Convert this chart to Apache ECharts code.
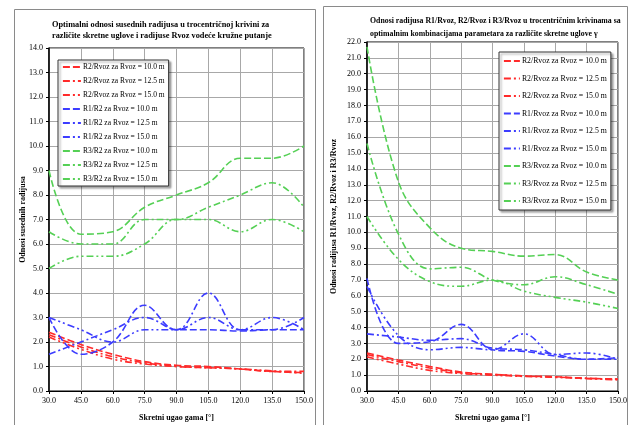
<!doctype html>
<html>
<head>
<meta charset="utf-8">
<title>Odnosi radijusa</title>
<script src="https://cdn.jsdelivr.net/npm/echarts@6/dist/echarts.min.js"></script>
<style>
  body { margin: 0; background: #fff; }
  #left { position: absolute; left: 0; top: 0; width: 320px; height: 425px; }
  #right { position: absolute; left: 320px; top: 0; width: 309px; height: 425px; }
</style>
</head>
<body>
<div id="left"></div>
<div id="right"></div>
<script>
// skretni ugao gama
var angles = [30, 45, 60, 75, 90, 105, 120, 135, 150];
var radii = ['10.0', '12.5', '15.0'];

// levi grafik: odnosi susednih radijusa
var l_r2rvoz_10 = [2.4, 1.9, 1.5, 1.2, 1.05, 1.0, 0.9, 0.8, 0.75];
var l_r2rvoz_125 = [2.3, 1.8, 1.4, 1.15, 1.0, 0.95, 0.9, 0.8, 0.8];
var l_r2rvoz_15 = [2.2, 1.7, 1.3, 1.1, 1.0, 0.95, 0.9, 0.82, 0.72];
var l_r1r2_10 = [3.0, 1.5, 2.0, 3.5, 2.5, 2.5, 2.45, 2.5, 2.5];
var l_r1r2_125 = [1.5, 2.0, 2.5, 3.0, 2.5, 4.0, 2.5, 2.5, 3.0];
var l_r1r2_15 = [3.0, 2.5, 2.0, 2.5, 2.5, 3.0, 2.5, 3.0, 2.5];
var l_r3r2_10 = [9.0, 6.4, 6.5, 7.5, 8.0, 8.5, 9.5, 9.5, 10.0];
var l_r3r2_125 = [6.5, 6.0, 6.0, 7.0, 7.0, 7.5, 8.0, 8.5, 7.5];
var l_r3r2_15 = [5.0, 5.5, 5.5, 6.0, 7.0, 7.0, 6.5, 7.0, 6.5];

// desni grafik: R1/Rvoz, R2/Rvoz, R3/Rvoz
var d_r2rvoz_10 = [2.4, 1.95, 1.55, 1.2, 1.05, 0.95, 0.9, 0.8, 0.75];
var d_r2rvoz_125 = [2.3, 1.85, 1.45, 1.15, 1.05, 0.95, 0.88, 0.8, 0.75];
var d_r2rvoz_15 = [2.15, 1.7, 1.3, 1.1, 1.0, 0.92, 0.86, 0.78, 0.7];
var d_r1rvoz_10 = [7.1, 3.0, 3.1, 4.2, 2.6, 2.5, 2.2, 2.0, 2.1];
var d_r1rvoz_125 = [3.6, 3.4, 3.2, 3.3, 2.7, 2.6, 2.3, 2.0, 2.0];
var d_r1rvoz_15 = [6.6, 3.5, 2.6, 2.75, 2.6, 3.6, 2.3, 2.4, 2.0];
var d_r3rvoz_10 = [21.7, 13.2, 10.3, 9.0, 8.8, 8.5, 8.6, 7.5, 7.0];
var d_r3rvoz_125 = [15.6, 9.9, 7.7, 7.8, 7.0, 6.7, 7.2, 6.7, 6.1];
var d_r3rvoz_15 = [11.0, 8.3, 6.9, 6.6, 7.0, 6.3, 5.9, 5.6, 5.2];

var FONT = 'Liberation Serif';
var colors = ['#ff2a2a', '#3c3cff', '#55d055'];
var dashes = [[7, 3], [7, 3, 2, 3], [7, 3, 2, 3, 2, 3]];

function makeSeries(groups, prefixes) {
  var out = [];
  groups.forEach(function (grp, g) {
    grp.forEach(function (vals, k) {
      out.push({
        name: prefixes[g] + ' za Rvoz = ' + radii[k] + ' m',
        type: 'line',
        smooth: 0.4,
        symbol: 'none',
        data: angles.map(function (a, i) { return [a, vals[i]]; }),
        lineStyle: { color: colors[g], width: 1.6, type: dashes[k] },
        itemStyle: { color: colors[g] }
      });
    });
  });
  return out;
}

function makeOption(p) {
  var series = makeSeries(p.groups, p.prefixes);
  return {
    animation: false,
    title: {
      text: p.title,
      left: p.titleLeft,
      top: p.titleTop,
      textStyle: { fontFamily: FONT, fontSize: p.titleSize, fontWeight: 'bold', color: '#000', lineHeight: p.titleLH }
    },
    graphic: [{
      type: 'rect',
      shape: p.frame,
      style: { fill: 'none', stroke: '#8a8a8a', lineWidth: 1 },
      z: -1
    }],
    legend: {
      orient: 'vertical',
      left: p.legend.left,
      top: p.legend.top,
      data: series.map(function (s) { return s.name; }),
      itemWidth: p.legend.iw,
      itemHeight: 8,
      itemGap: p.legend.gap,
      padding: [p.legend.pad, 4, p.legend.pad, 4],
      backgroundColor: '#fff',
      borderColor: '#333',
      borderWidth: 1,
      shadowColor: 'rgba(0,0,0,0.35)',
      shadowOffsetX: 2,
      shadowOffsetY: 2,
      shadowBlur: 2,
      itemStyle: { opacity: 0 },
      lineStyle: { width: 1.8 },
      textStyle: { fontFamily: FONT, fontSize: p.legend.fs, color: '#000', padding: [0, 0, 0, -3] }
    },
    grid: Object.assign({ show: true, borderColor: '#000', borderWidth: 1, containLabel: false, outerBoundsMode: 'none' }, p.grid),
    xAxis: {
      type: 'value', min: 30, max: 150, interval: 15,
      name: 'Skretni ugao gama [°]', nameLocation: 'middle', nameGap: 23, nameMoveOverlap: false,
      nameTextStyle: { fontFamily: FONT, fontSize: 8, fontWeight: 'bold', color: '#000' },
      axisLine: { lineStyle: { color: '#000', width: 1 } },
      axisTick: { show: true, length: 3, lineStyle: { color: '#000' } },
      axisLabel: { fontFamily: FONT, fontSize: 8, color: '#000', margin: 6, formatter: function (v) { return v.toFixed(1); } },
      splitLine: { lineStyle: { color: '#a8a8a8', width: 1 } }
    },
    yAxis: {
      type: 'value', min: 0, max: p.ymax, interval: 1,
      name: p.yname, nameLocation: 'middle', nameGap: p.ynameGap, nameMoveOverlap: false,
      nameTextStyle: { fontFamily: FONT, fontSize: 8, fontWeight: 'bold', color: '#000' },
      axisLine: { show: true, lineStyle: { color: '#000', width: 1.5 } },
      axisTick: { show: true, length: 3, lineStyle: { color: '#000' } },
      axisLabel: { fontFamily: FONT, fontSize: 8, color: '#000', margin: 6, formatter: function (v) { return v.toFixed(1); } },
      splitLine: { lineStyle: { color: '#a8a8a8', width: 1 } }
    },
    series: series
  };
}

var left = echarts.init(document.getElementById('left'));
left.setOption(makeOption({
  title: 'Optimalni odnosi susednih radijusa u trocentričnoj krivini za\nrazličite skretne uglove i radijuse Rvoz vodeće kružne putanje',
  titleLeft: 47, titleTop: 14, titleLH: 11, titleSize: 8.3,
  frame: { x: 14.5, y: 9.5, width: 301, height: 430 },
  legend: { left: 58, top: 60, iw: 18, gap: 6, pad: 3, fs: 7.5 },
  grid: { left: 49, right: 16, top: 48, bottom: 34 },
  ymax: 14, yname: 'Odnosi susednih radijusa', ynameGap: 22,
  groups: [[l_r2rvoz_10, l_r2rvoz_125, l_r2rvoz_15], [l_r1r2_10, l_r1r2_125, l_r1r2_15], [l_r3r2_10, l_r3r2_125, l_r3r2_15]],
  prefixes: ['R2/Rvoz', 'R1/R2', 'R3/R2']
}));

var right = echarts.init(document.getElementById('right'));
right.setOption(makeOption({
  title: 'Odnosi radijusa R1/Rvoz, R2/Rvoz i R3/Rvoz u trocentričnim krivinama sa\noptimalnim kombinacijama parametara za različite skretne uglove γ',
  titleLeft: 45, titleTop: 9, titleLH: 13, titleSize: 7.8,
  frame: { x: 3.5, y: 6.5, width: 304, height: 430 },
  legend: { left: 179, top: 52, iw: 16, gap: 9.5, pad: 5, fs: 7.8 },
  grid: { left: 47, right: 11, top: 42, bottom: 34 },
  ymax: 22, yname: 'Odnosi radijusa R1/Rvoz, R2/Rvoz i R3/Rvoz', ynameGap: 29,
  groups: [[d_r2rvoz_10, d_r2rvoz_125, d_r2rvoz_15], [d_r1rvoz_10, d_r1rvoz_125, d_r1rvoz_15], [d_r3rvoz_10, d_r3rvoz_125, d_r3rvoz_15]],
  prefixes: ['R2/Rvoz', 'R1/Rvoz', 'R3/Rvoz']
}));
</script>
</body>
</html>
